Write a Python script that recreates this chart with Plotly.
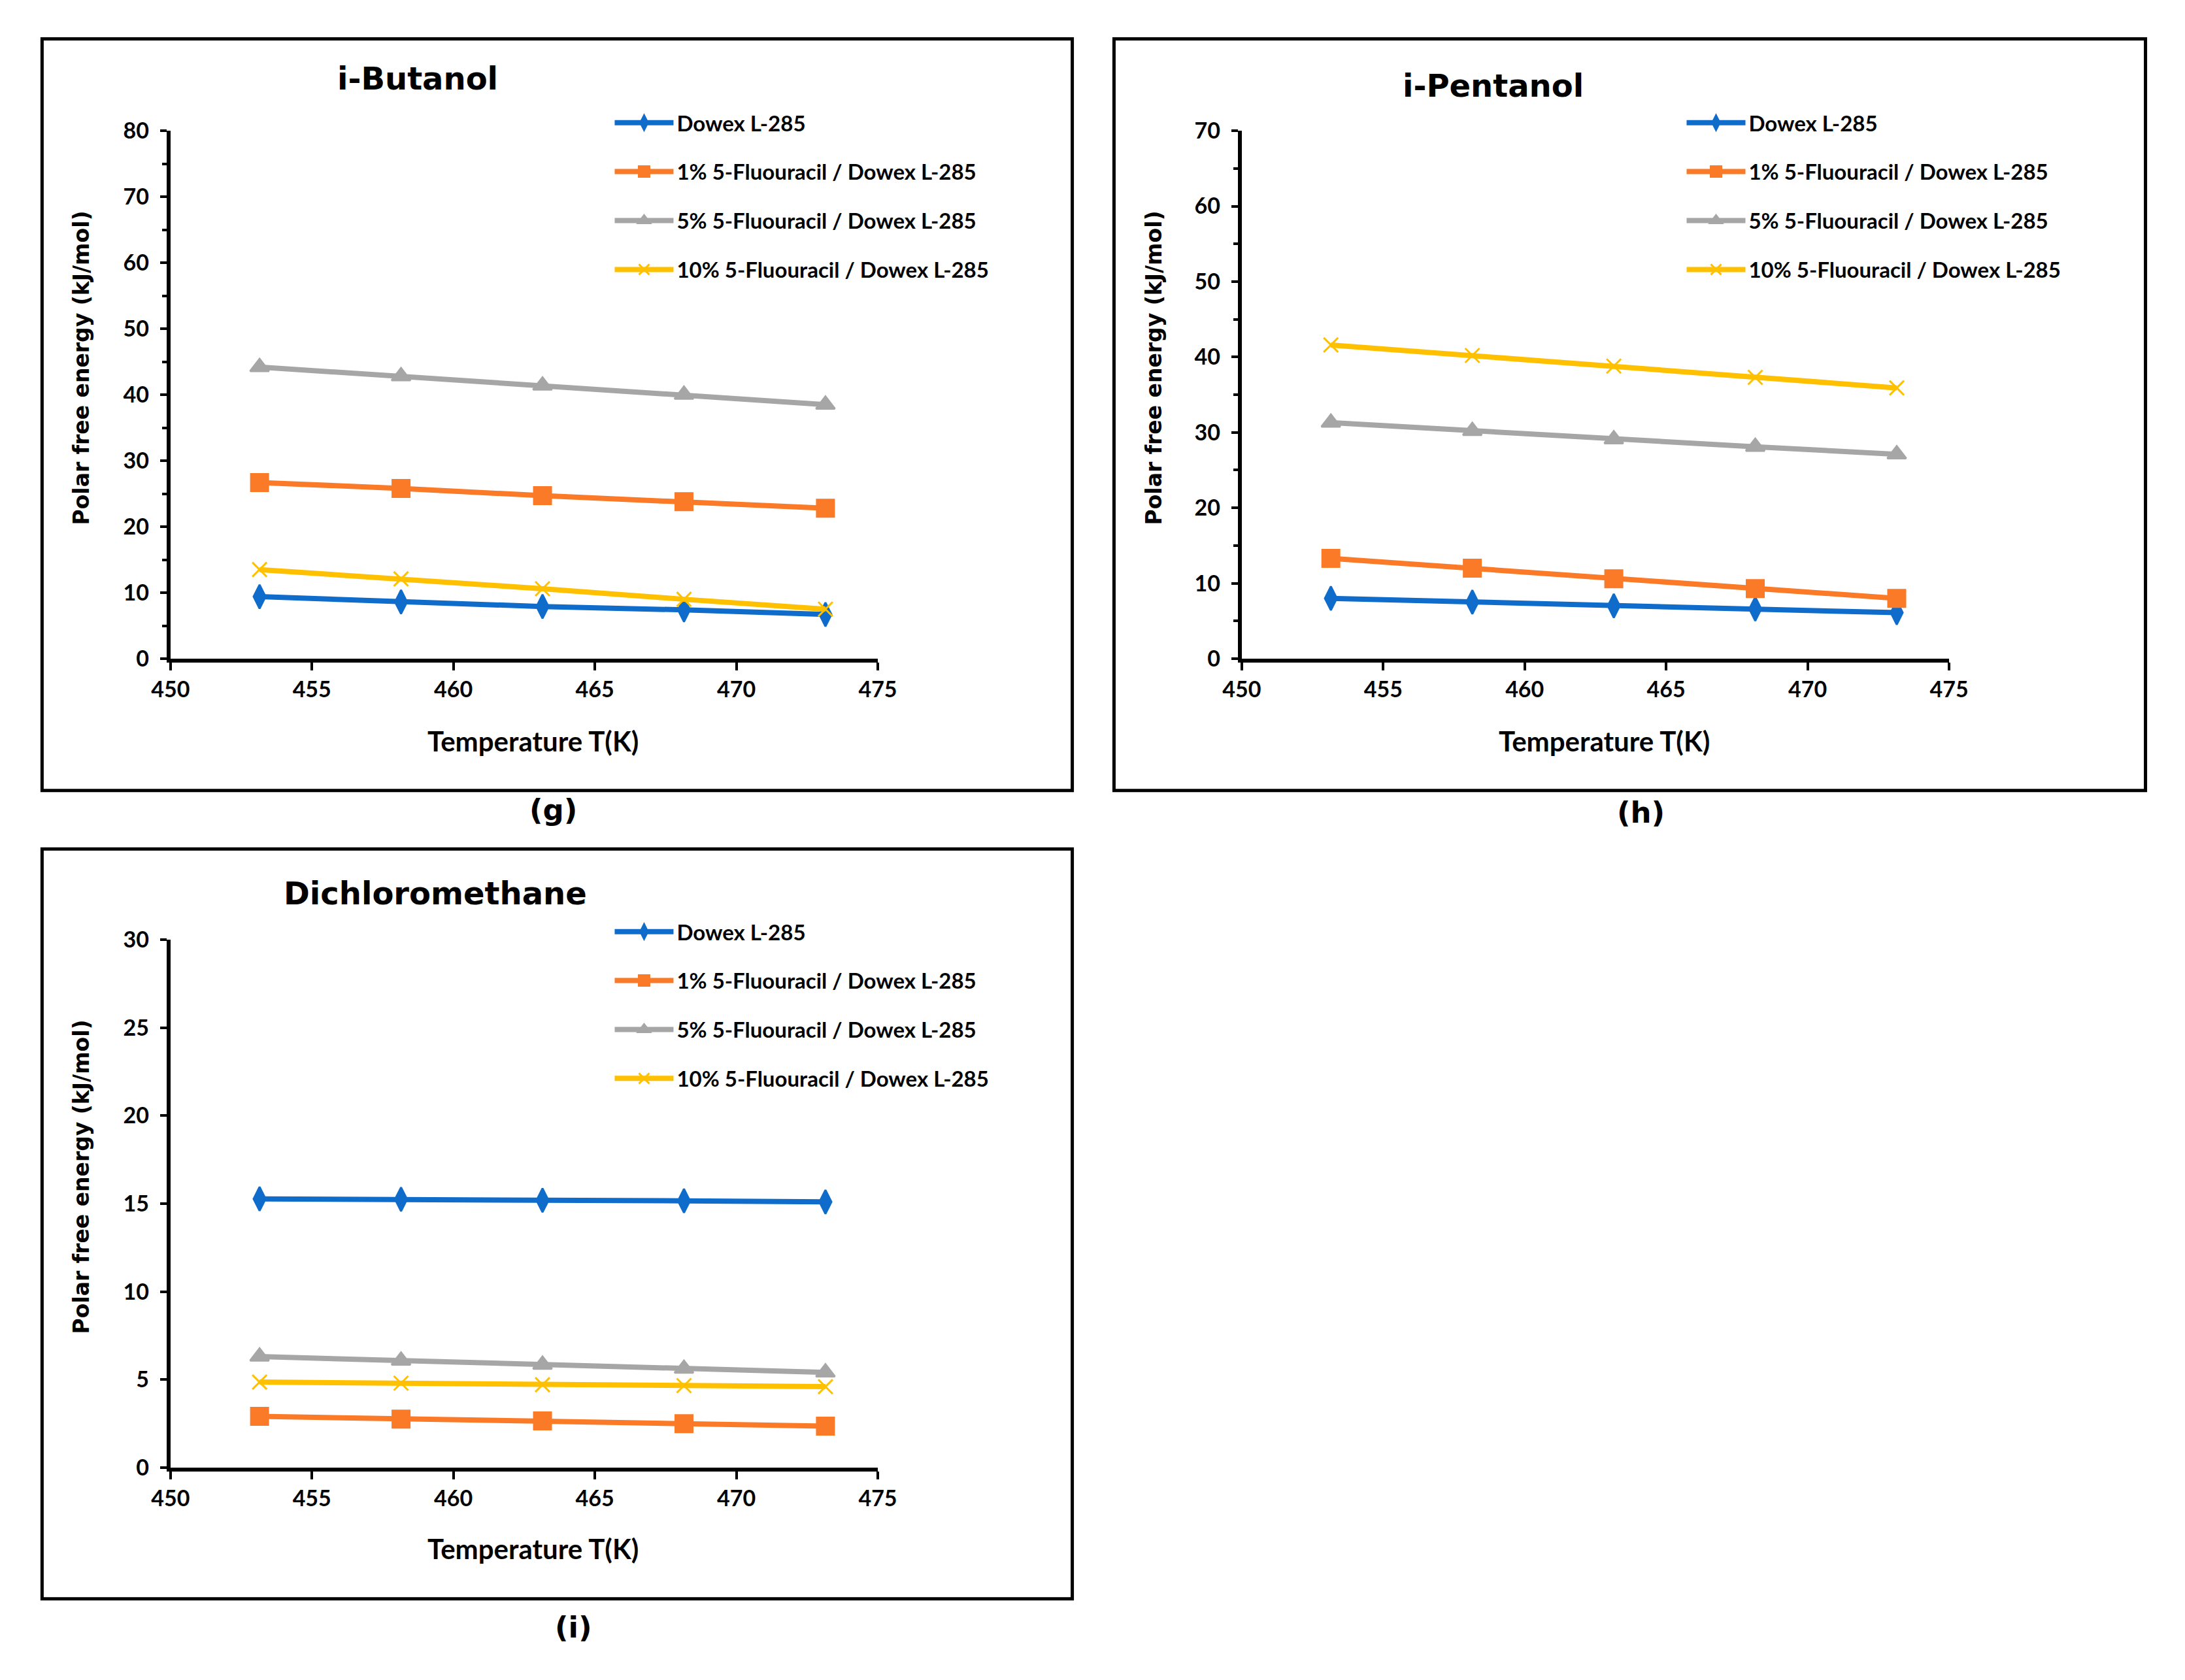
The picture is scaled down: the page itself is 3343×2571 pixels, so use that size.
import plotly.graph_objects as go

# ---------------- data ----------------
temps = [453.15, 458.15, 463.15, 468.15, 473.15]
series_names = [
    "Dowex L-285",
    "1% 5-Fluouracil / Dowex L-285",
    "5% 5-Fluouracil / Dowex L-285",
    "10% 5-Fluouracil / Dowex L-285",
]

butanol_dowex = [9.4, 8.6, 7.9, 7.4, 6.7]
butanol_1pct = [26.7, 25.8, 24.7, 23.8, 22.8]
butanol_5pct = [44.2, 42.8, 41.4, 40.0, 38.5]
butanol_10pct = [13.5, 12.1, 10.6, 9.0, 7.5]

pentanol_dowex = [8.0, 7.5, 7.0, 6.6, 6.1]
pentanol_1pct = [13.3, 12.0, 10.6, 9.3, 8.0]
pentanol_5pct = [31.3, 30.2, 29.1, 28.1, 27.1]
pentanol_10pct = [41.6, 40.2, 38.8, 37.3, 35.9]

dcm_dowex = [15.27, 15.25, 15.19, 15.16, 15.10]
dcm_1pct = [2.91, 2.76, 2.65, 2.50, 2.36]
dcm_5pct = [6.31, 6.08, 5.85, 5.62, 5.41]
dcm_10pct = [4.86, 4.80, 4.71, 4.66, 4.60]

panel_titles = ["i-Butanol", "i-Pentanol", "Dichloromethane"]
panel_labels = ["(g)", "(h)", "(i)"]
x_title = "Temperature T(K)"
y_title = "Polar free energy (kJ/mol)"

# ---------------- style ----------------
W, H = 3343, 2571
colors = ["#0F6CCB", "#FA7A28", "#A6A6A6", "#FFC000"]
symbols = ["diamond-tall", "square", "triangle-up", "x-thin"]
msizes = [26, 26, 25, 22]
TICKFONT = dict(family="Lato", size=34, color="black", weight="bold")
LEGFONT = dict(family="Lato", size=33, color="black", weight="bold")
TITLEFONT = dict(family="DejaVu Sans", size=48, color="black", weight="bold")
YTFONT = dict(family="DejaVu Sans", size=33, color="black", weight="bold")
XTFONT = dict(family="Lato", size=42, color="black", weight="bold")
LABFONT = dict(family="DejaVu Sans", size=45, color="black", weight="bold")


def px(x):
    return x / W


def py(y):
    return 1 - y / H


panels = [
    dict(data=[butanol_dowex, butanol_1pct, butanol_5pct, butanol_10pct],
         xd=[px(235), px(1337)], yd=[py(1002), py(181)], ymax=80, dtick=10, minor=True,
         box=[px(35), px(1640), py(1207), py(38)],
         title=(px(620), py(100)), label=(px(831), py(1237)),
         legend=(px(922), py(140)),
         ytitle=(px(96), py(550)), xtitle=(px(800), py(1130))),
    dict(data=[pentanol_dowex, pentanol_1pct, pentanol_5pct, pentanol_10pct],
         xd=[px(1904), px(3006)], yd=[py(1002), py(181)], ymax=70, dtick=10, minor=True,
         box=[px(1705), px(3312), py(1207), py(38)],
         title=(px(2296), py(111)), label=(px(2526), py(1241)),
         legend=(px(2592), py(140)),
         ytitle=(px(1767), py(550)), xtitle=(px(2469), py(1130))),
    dict(data=[dcm_dowex, dcm_1pct, dcm_5pct, dcm_10pct],
         xd=[px(235), px(1337)], yd=[py(2260), py(1439)], ymax=30, dtick=5, minor=False,
         box=[px(35), px(1640), py(2464), py(1298)],
         title=(px(648), py(1367)), label=(px(863), py(2509)),
         legend=(px(922), py(1398)),
         ytitle=(px(96), py(1808)), xtitle=(px(800), py(2386))),
]

fig = go.Figure()
annotations = []
shapes = []
layout_extra = {}

for i, p in enumerate(panels):
    n = "" if i == 0 else str(i + 1)
    leg = "legend" if i == 0 else f"legend{i + 1}"
    for k in range(4):
        fig.add_trace(go.Scatter(
            x=temps, y=p["data"][k], name=series_names[k], mode="lines+markers",
            xaxis="x" + n, yaxis="y" + n, legend=leg, legendgroup=f"g{i}_{k}",
            line=dict(color=colors[k], width=8),
            marker=dict(symbol=symbols[k], size=msizes[k], color=colors[k],
                        line=dict(color=colors[k], width=3)),
        ))
    layout_extra["xaxis" + n] = dict(
        domain=p["xd"], anchor="y" + n, range=[450, 475], dtick=5, tick0=450,
        showline=True, linecolor="black", linewidth=6, ticks="outside", ticklen=12,
        tickwidth=4, tickcolor="black", showgrid=False, zeroline=False,
        tickfont=TICKFONT, fixedrange=True)
    ya = dict(
        domain=p["yd"], anchor="x" + n, range=[0, p["ymax"]], dtick=p["dtick"], tick0=0,
        showline=True, linecolor="black", linewidth=6, ticks="outside", ticklen=10,
        tickwidth=4, tickcolor="black", showgrid=False, zeroline=False,
        ticklabelstandoff=10, tickfont=TICKFONT, fixedrange=True)
    if p["minor"]:
        ya["minor"] = dict(dtick=5, ticks="outside", ticklen=7, tickwidth=4, tickcolor="black",
                           showgrid=False)
    layout_extra["yaxis" + n] = ya
    layout_extra[leg] = dict(
        x=p["legend"][0], y=p["legend"][1], xanchor="left", yanchor="top",
        font=LEGFONT, bgcolor="rgba(0,0,0,0)", traceorder="grouped", tracegroupgap=29,
        itemwidth=90)
    shapes.append(dict(type="rect", xref="paper", yref="paper",
                       x0=p["box"][0], x1=p["box"][1], y0=p["box"][2], y1=p["box"][3],
                       line=dict(color="black", width=5)))
    annotations.append(dict(text=panel_titles[i], x=p["title"][0], y=p["title"][1],
                            xref="paper", yref="paper", showarrow=False, font=TITLEFONT,
                            xanchor="center", yanchor="middle"))
    annotations.append(dict(text=panel_labels[i], x=p["label"][0], y=p["label"][1],
                            xref="paper", yref="paper", showarrow=False, font=LABFONT,
                            xanchor="center", yanchor="middle"))
    annotations.append(dict(text=y_title, x=p["ytitle"][0], y=p["ytitle"][1], textangle=-90,
                            xref="paper", yref="paper", showarrow=False, font=YTFONT,
                            xanchor="center", yanchor="middle"))
    annotations.append(dict(text=x_title, x=p["xtitle"][0], y=p["xtitle"][1],
                            xref="paper", yref="paper", showarrow=False, font=XTFONT,
                            xanchor="center", yanchor="middle"))

fig.update_layout(
    width=W, height=H, margin=dict(l=0, r=0, t=0, b=0),
    paper_bgcolor="white", plot_bgcolor="white", showlegend=True,
    annotations=annotations, shapes=shapes, **layout_extra)

fig.write_html(
    "out.html", config={"displayModeBar": False},
    post_script="document.body.style.margin='0';document.body.style.overflow='hidden';")
